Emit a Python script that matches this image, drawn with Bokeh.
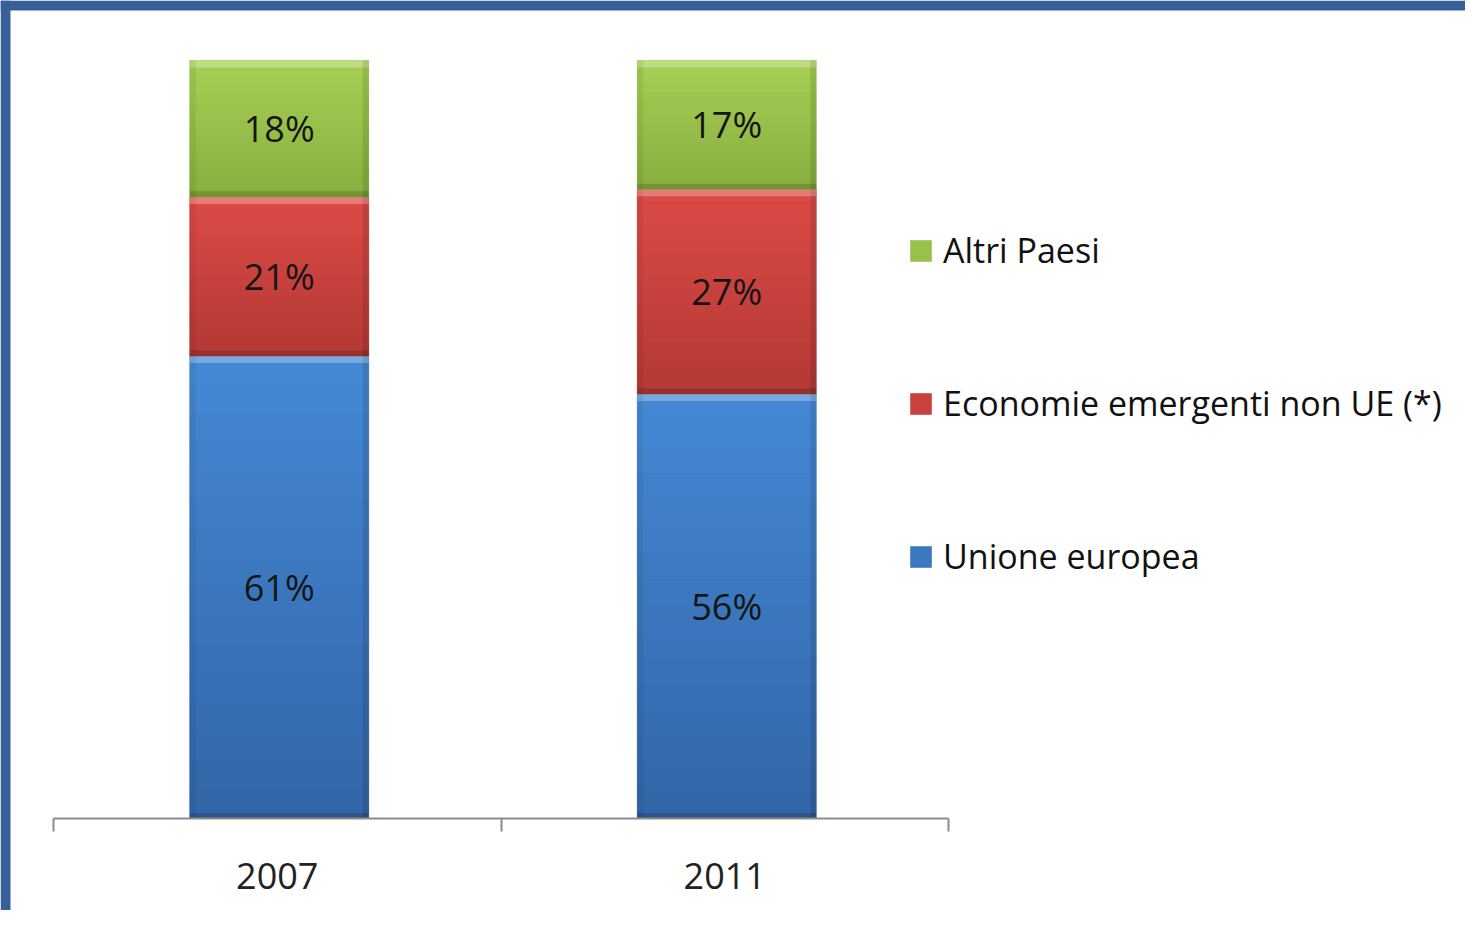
import numpy as np
from bokeh.plotting import figure
from bokeh.models import (Range1d, LinearAxis, FixedTicker, Legend, LegendItem,
                          ColumnDataSource, BoxAnnotation)
from bokeh.core.properties import value
from bokeh.embed import file_html
from bokeh.resources import INLINE

# ---------------- data ----------------
categories = ["2007", "2011"]
series = ["Unione europea", "Economie emergenti non UE (*)", "Altri Paesi"]
unione_europea = [61, 56]
economie_emergenti = [21, 27]
altri_paesi = [18, 17]

# ---------------- style ----------------
FONT = "Open Sans"
FS = "36px"
LEG_FS = "34px"
W, H = 1465, 910
AXIS_Y = 818.0         # px from top where value 0 sits
PX_X = 447.5           # px per category unit
PX_Y = 7.58            # px per percent
X0 = 53.0              # px of the left category boundary
x_start = -X0 / PX_X
x_end = (W - X0) / PX_X
y_end = AXIS_Y / PX_Y
y_start = -(H - AXIS_Y) / PX_Y

colors_top = ["#4589D6", "#DD4B46", "#A6D055"]
colors_bot = ["#3265A6", "#B23935", "#88AE3F"]
colors_mid = ["#3C78C0", "#C8423E", "#98C04A"]
border_blue = "#37609A"

p = figure(width=W, height=H, output_backend="svg", toolbar_location=None,
           x_range=Range1d(x_start, x_end), y_range=Range1d(y_start, y_end),
           x_axis_location=None, y_axis_location=None,
           min_border_left=0, min_border_right=0, min_border_top=0,
           min_border_bottom=0)
p.grid.visible = False
p.outline_line_color = None
p.background_fill_color = "white"
p.border_fill_color = "white"

x = np.arange(len(categories)) + 0.5
vals = [np.array(unione_europea, float), np.array(economie_emergenti, float),
        np.array(altri_paesi, float)]
bottoms = [np.zeros(len(categories))]
for v in vals[:-1]:
    bottoms.append(bottoms[-1] + v)
tops = [b + v for b, v in zip(bottoms, vals)]

BAR_W = 0.40
BAR_SHIFT = 2 / PX_X

def hex2rgb(h):
    return np.array([int(h[i:i + 2], 16) for i in (1, 3, 5)], float)

def rgb2hex(c):
    return "#%02x%02x%02x" % tuple(int(round(t)) for t in c)

xb = x + BAR_SHIFT
renderers = []
N = 16
for s in range(3):
    b, t = bottoms[s], tops[s]
    r = p.vbar(x=xb, bottom=b, top=t, width=BAR_W, fill_color=colors_mid[s],
               line_color=None)
    renderers.append(r)
    # vertical gradient
    xs, bs, ts, cs = [], [], [], []
    ct, cb = hex2rgb(colors_top[s]), hex2rgb(colors_bot[s])
    for i in range(len(categories)):
        for k in range(N):
            f0, f1 = k / N, (k + 1) / N
            xs.append(xb[i])
            ts.append(t[i] - (t[i] - b[i]) * f0)
            bs.append(t[i] - (t[i] - b[i]) * f1)
            cs.append(rgb2hex(ct + (cb - ct) * (f0 + f1) / 2))
    p.vbar(x=xs, bottom=bs, top=ts, width=BAR_W, fill_color=cs, line_color=cs,
           line_width=0.5)
    # bevel: light band on top, dark band on bottom
    band = 7 / PX_Y
    p.vbar(x=xb, bottom=t - band, top=t, width=BAR_W, fill_color="white",
           fill_alpha=0.28, line_color=None)
    p.vbar(x=xb, bottom=b, top=b + band * 0.8, width=BAR_W, fill_color="black",
           fill_alpha=0.15, line_color=None)
    # side shading
    p.vbar(x=xb - BAR_W / 2 + 3 / PX_X, bottom=b, top=t, width=6 / PX_X,
           fill_color="black", fill_alpha=0.06, line_color=None)
    p.vbar(x=xb + BAR_W / 2 - 3 / PX_X, bottom=b, top=t, width=6 / PX_X,
           fill_color="black", fill_alpha=0.10, line_color=None)
    # value labels
    src = ColumnDataSource(dict(x=xb, y=(b + t) / 2,
                                txt=["%d%%" % v for v in vals[s]]))
    p.text(x="x", y="y", text="txt", source=src, text_align="center",
           text_baseline="middle", text_font=value(FONT),
           text_font_size=FS, text_color="#151515")

# ---------------- axis (fixed at value 0) ----------------
ax = LinearAxis(ticker=FixedTicker(ticks=list(x),
                                   minor_ticks=list(np.arange(len(categories) + 1))),
                bounds=(0, len(categories)), fixed_location=0)
ax.major_label_overrides = {float(xi): c for xi, c in zip(x, categories)}
ax.axis_line_color = "#8C8C8C"
ax.axis_line_width = 2
ax.major_tick_line_color = None
ax.major_tick_out = 13
ax.major_tick_in = 0
ax.minor_tick_line_color = "#8C8C8C"
ax.minor_tick_line_width = 2
ax.minor_tick_out = 13
ax.minor_tick_in = 0
ax.major_label_standoff = 31
ax.major_label_text_font = FONT
ax.major_label_text_font_size = FS
ax.major_label_text_color = "#222222"
p.add_layout(ax, "below")

# ---------------- legend ----------------
items = [LegendItem(label=series[s], renderers=[renderers[s]]) for s in (2, 1, 0)]
leg = Legend(items=items, location=(907, 331), orientation="vertical",
             glyph_width=27, glyph_height=27, label_standoff=9,
             label_text_font=FONT, label_text_font_size=LEG_FS,
             label_text_color="#111111", label_height=22, spacing=107,
             padding=0, margin=0, border_line_color=None,
             background_fill_alpha=0)
p.add_layout(leg)

# ---------------- page frame stripes ----------------
p.add_layout(BoxAnnotation(bottom=y_end - 10 / PX_Y, fill_color=border_blue,
                           fill_alpha=1, line_color=None))
p.add_layout(BoxAnnotation(right=x_start + 10 / PX_X, fill_color=border_blue,
                           fill_alpha=1, line_color=None))

open("out.html", "w").write(file_html(p, INLINE))
